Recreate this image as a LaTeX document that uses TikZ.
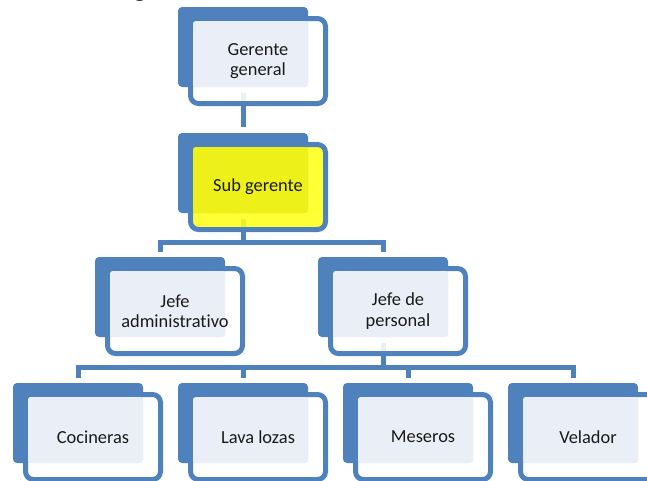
\documentclass[tikz,border=0pt]{standalone}
\usepackage{fontspec}
\setmainfont{Carlito}[RawFeature=-liga]
\usetikzlibrary{calc}
\definecolor{orgblue}{HTML}{4F81BD}
\definecolor{orgpale}{HTML}{EAEFF7}
\definecolor{orgyellow}{HTML}{FFFF1A}
\definecolor{orgyellowdim}{HTML}{EEF01A}
% one chart box: name, centre of the back tile, label, front fill, label-panel fill
\newcommand\orgunit[5]{%
  \node[backbox] (#1b) at (#2) {};
  \node[frontbox, fill=#4] (#1f) at ($(#1b.center)+(15,14)$) {};
  \node[shadebox, fill=#5] (#1s) at ($(#1b.center)+(7.5,7)$) {};
  \node[lbl] (#1t) at (#1f.center) {#3};
}
\begin{document}
\begin{tikzpicture}[
  x=0.75pt, y=-0.75pt,
  backbox/.style={fill=orgblue, rounded corners=3pt, minimum width=97.5pt,
    minimum height=60pt, inner sep=0pt, outer sep=0pt},
  frontbox/.style={draw=orgblue, line width=3.75pt, fill opacity=0.88,
    rounded corners=6pt, minimum width=101.25pt, minimum height=63.75pt,
    inner sep=0pt, outer sep=0pt},
  shadebox/.style={rounded corners=2pt, minimum width=86.25pt,
    minimum height=49.5pt, inner sep=0pt, outer sep=0pt},
  lbl/.style={font=\fontsize{13.8}{15.2}\selectfont, align=center, text=black!90},
  link/.style={draw=orgblue, line width=3.75pt, line join=miter}
]
\useasboundingbox (0,0) rectangle (647,480);

% title descender peeking in at the top edge
\node[font=\fontsize{21}{25}\selectfont, anchor=base, inner sep=0pt] (ttl) at (140,-4) {g};

% connectors (drawn first, the boxes sit on top)
\coordinate (gbase) at (243,93);
\coordinate (sbase) at (243,219);
\coordinate (busa) at (243,242);
\coordinate (pbase) at (383,343);
\coordinate (busb) at (383,367);
\coordinate (sbtop) at (243,127);
\coordinate (jatop) at (160,252);
\coordinate (jptop) at (383,252);
\coordinate (cotop) at (78,378);
\coordinate (latop) at (243,378);
\coordinate (metop) at (408,378);
\coordinate (vetop) at (573,378);
\draw[link] (gbase) -- (sbtop);
\draw[link] (sbase) -- (busa);
\draw[link] (busa) -| (jatop);
\draw[link] (busa) -| (jptop);
\draw[link] (pbase) -- (busb);
\draw[link] (busb) -| (cotop);
\draw[link] (busb) -| (latop);
\draw[link] (busb) -| (metop);
\draw[link] (busb) -| (vetop);

% boxes
\orgunit{g}{243,47}{Gerente\\general}{white}{orgpale}
\orgunit{s}{243,173}{Sub gerente}{orgyellow}{orgyellowdim}
\orgunit{ja}{160,297}{Jefe\\administrativo}{white}{orgpale}
\orgunit{jp}{383,297}{Jefe de\\personal}{white}{orgpale}
\orgunit{co}{78,423}{Cocineras}{white}{orgpale}
\orgunit{la}{243,423}{Lava lozas}{white}{orgpale}
\orgunit{me}{408,423}{Meseros}{white}{orgpale}
\orgunit{ve}{573,423}{Velador}{white}{orgpale}
\end{tikzpicture}
\end{document}
